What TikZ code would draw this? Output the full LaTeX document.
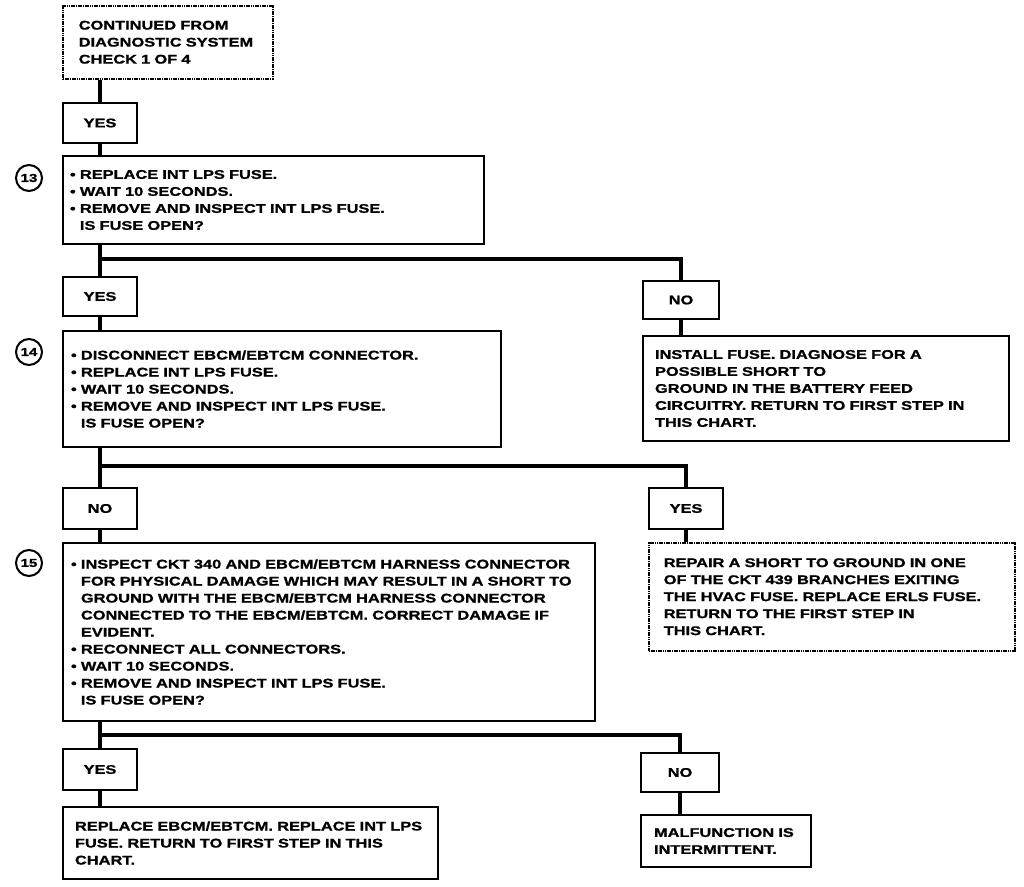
\documentclass[tikz,border=0pt]{standalone}
\usepackage{fontspec}
\newfontfamily\chartfont{Liberation Sans Bold}[FakeStretch=1.30, FakeBold=1.2]
\begin{document}
\begin{tikzpicture}[x=1pt,y=-1pt,
  every node/.style={font=\chartfont\fontsize{12.6}{17}\selectfont, text=black},
  box/.style={draw, line width=2pt, anchor=north west, align=left, inner ysep=0pt},
  dbox/.style={box, line width=1.5pt, dash pattern=on 1.6pt off 0.7pt},
  ans/.style={draw, line width=2pt, anchor=north west, align=center, inner sep=0pt},
  num/.style={draw, circle, line width=2pt, minimum size=26pt, inner sep=0pt, font=\chartfont\fontsize{11.5}{12}\selectfont},
  conn/.style={line width=3.8pt}]
\useasboundingbox[fill=white] (0,0) rectangle (1024,886);
\newcommand{\hang}{\phantom{\textbullet\ }}

\node[dbox, text width=178pt, inner xsep=16pt, minimum height=73pt] (top) at (62,5)
  {CONTINUED FROM\\DIAGNOSTIC SYSTEM\\CHECK 1 OF 4};
\node[ans, minimum width=74pt, minimum height=40pt] (yes1) at (62,102) {YES};
\node[box, text width=407pt, inner xsep=7pt, minimum height=88pt] (b13) at (62,155)
  {\textbullet\ REPLACE INT LPS FUSE.\\\textbullet\ WAIT 10 SECONDS.\\\textbullet\ REMOVE AND INSPECT INT LPS FUSE.\\\hang IS FUSE OPEN?};
\node[num] (c13) at (29,178) {13};

\coordinate (j1) at (100,259);
\node[ans, minimum width=74pt, minimum height=39pt] (yes2) at (62,276) {YES};
\node[ans, minimum width=76pt, minimum height=38pt] (no1) at (642,280) {NO};
\node[box, text width=422pt, inner xsep=8pt, minimum height=116pt] (b14) at (62,330)
  {\textbullet\ DISCONNECT EBCM/EBTCM CONNECTOR.\\\textbullet\ REPLACE INT LPS FUSE.\\\textbullet\ WAIT 10 SECONDS.\\\textbullet\ REMOVE AND INSPECT INT LPS FUSE.\\\hang IS FUSE OPEN?};
\node[num] (c14) at (29,352) {14};
\node[box, text width=342pt, inner xsep=12pt, minimum height=105pt] (inst) at (642,335)
  {INSTALL FUSE. DIAGNOSE FOR A\\POSSIBLE SHORT TO\\GROUND IN THE BATTERY FEED\\CIRCUITRY. RETURN TO FIRST STEP IN\\THIS CHART.};

\coordinate (j2) at (100,466);
\node[ans, minimum width=74pt, minimum height=41pt] (no2) at (62,487) {NO};
\node[ans, minimum width=74pt, minimum height=41pt] (yes3) at (648,487) {YES};
\node[dbox, text width=336pt, inner xsep=15pt, minimum height=108pt] (rep) at (648,542)
  {REPAIR A SHORT TO GROUND IN ONE\\OF THE CKT 439 BRANCHES EXITING\\THE HVAC FUSE. REPLACE ERLS FUSE.\\RETURN TO THE FIRST STEP IN\\THIS CHART.};
\node[box, text width=516pt, inner xsep=8pt, minimum height=178pt] (b15) at (62,542)
  {\textbullet\ INSPECT CKT 340 AND EBCM/EBTCM HARNESS CONNECTOR\\\hang FOR PHYSICAL DAMAGE WHICH MAY RESULT IN A SHORT TO\\\hang GROUND WITH THE EBCM/EBTCM HARNESS CONNECTOR\\\hang CONNECTED TO THE EBCM/EBTCM. CORRECT DAMAGE IF\\\hang EVIDENT.\\\textbullet\ RECONNECT ALL CONNECTORS.\\\textbullet\ WAIT 10 SECONDS.\\\textbullet\ REMOVE AND INSPECT INT LPS FUSE.\\\hang IS FUSE OPEN?};
\node[num] (c15) at (29,563) {15};

\coordinate (j3) at (100,735);
\node[ans, minimum width=74pt, minimum height=41pt] (yes4) at (62,748) {YES};
\node[ans, minimum width=78pt, minimum height=39pt] (no3) at (640,752) {NO};
\node[box, text width=351pt, inner xsep=12pt, minimum height=72pt] (repl) at (62,806)
  {REPLACE EBCM/EBTCM. REPLACE INT LPS\\FUSE. RETURN TO FIRST STEP IN THIS\\CHART.};
\node[box, text width=144pt, inner xsep=13pt, minimum height=52pt] (malf) at (640,814)
  {MALFUNCTION IS\\INTERMITTENT.};

% connectors
\draw[conn] (top.south -| yes1.north) -- (yes1.north);
\draw[conn] (yes1.south) -- (yes1.south |- b13.north);
\draw[conn] (b13.south -| yes2.north) -- (yes2.north);
\draw[conn] (j1) -| (no1.north);
\draw[conn] (yes2.south) -- (yes2.south |- b14.north);
\draw[conn] (no1.south) -- (no1.south |- inst.north);
\draw[conn] (b14.south -| no2.north) -- (no2.north);
\draw[conn] (j2) -| (yes3.north);
\draw[conn] (no2.south) -- (no2.south |- b15.north);
\draw[conn] (yes3.south) -- (yes3.south |- rep.north);
\draw[conn] (b15.south -| yes4.north) -- (yes4.north);
\draw[conn] (j3) -| (no3.north);
\draw[conn] (yes4.south) -- (yes4.south |- repl.north);
\draw[conn] (no3.south) -- (no3.south |- malf.north);
\end{tikzpicture}
\end{document}
